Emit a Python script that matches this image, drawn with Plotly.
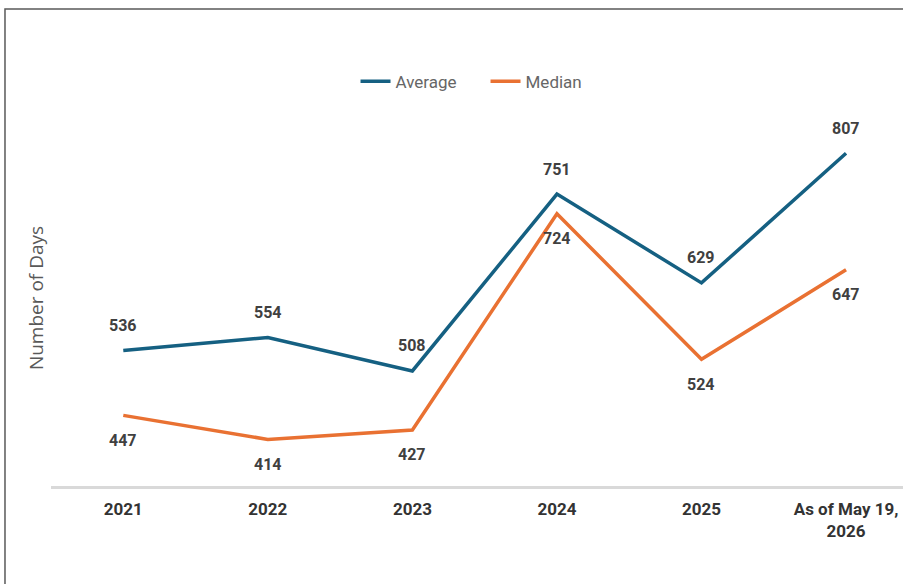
import plotly.graph_objects as go

categories = ["2021", "2022", "2023", "2024", "2025", "As of May 19,<br>2026"]
average_days = [536, 554, 508, 751, 629, 807]
median_days = [447, 414, 427, 724, 524, 647]

AVG_COLOR = "#156082"
MED_COLOR = "#E97132"
LABEL_FONT = dict(family="Roboto, Arial, sans-serif", size=16, color="#404040")

fig = go.Figure()
fig.add_trace(go.Scatter(
    x=list(range(len(categories))), y=average_days, name="Average", mode="lines",
    line=dict(color=AVG_COLOR, width=3.5),
))
fig.add_trace(go.Scatter(
    x=list(range(len(categories))), y=median_days, name="Median", mode="lines",
    line=dict(color=MED_COLOR, width=3.5),
))

# value labels: averages above the line, medians below
annotations = []
for i, v in enumerate(average_days):
    annotations.append(dict(x=i, y=v, text=f"<b>{v}</b>", showarrow=False,
                            yshift=25, font=LABEL_FONT))
for i, v in enumerate(median_days):
    annotations.append(dict(x=i, y=v, text=f"<b>{v}</b>", showarrow=False,
                            yshift=-25, font=LABEL_FONT))

fig.update_layout(
    width=903, height=584,
    margin=dict(l=51, r=0, t=110, b=98),
    paper_bgcolor="white", plot_bgcolor="white",
    showlegend=True,
    legend=dict(orientation="h", x=0.51, xanchor="center", y=1.075, yanchor="middle",
                font=dict(family="Roboto, sans-serif", size=17, color="#666666"),
                entrywidth=85, entrywidthmode="pixels", itemwidth=30, tracegroupgap=0),
    annotations=annotations,
    shapes=[dict(type="rect", xref="paper", yref="paper",
                 x0=-0.054, x1=1.05, y0=-0.4, y1=1.2686,
                 line=dict(color="#5a5a5a", width=1.5), layer="below")],
)
fig.update_xaxes(
    range=[-0.5, 5.394],
    tickmode="array", tickvals=list(range(len(categories))),
    ticktext=[f"<b>{c}</b>" for c in categories],
    showgrid=False, zeroline=False,
    showline=True, linecolor="#d9d9d9", linewidth=2.5,
    ticks="outside", ticklen=6, tickcolor="rgba(0,0,0,0)",
    tickfont=dict(family="Roboto, sans-serif", size=17, color="#333333"),
)
fig.update_yaxes(
    range=[350, 866.5],
    showgrid=False, zeroline=False, showline=False, showticklabels=False, ticks="",
    title=dict(text="Number of Days", standoff=1,
               font=dict(family="Open Sans, Arial, sans-serif", size=19, color="#595959")),
)

fig.write_html("out.html")
